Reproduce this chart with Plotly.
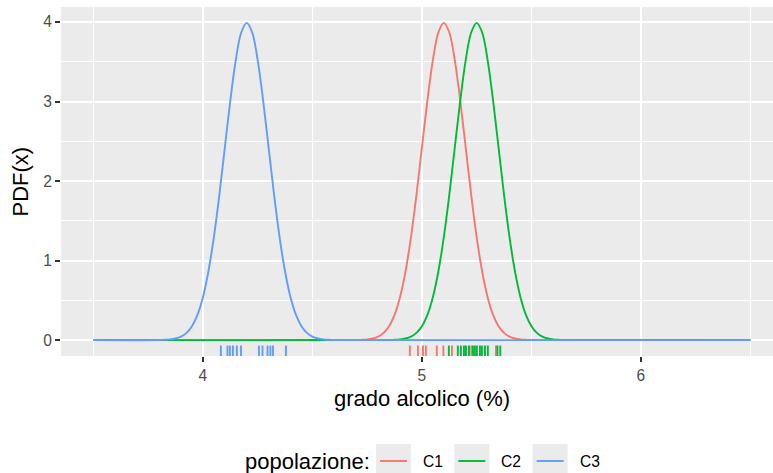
import plotly.graph_objects as go

# Populations and their colours
populations = ["C1", "C2", "C3"]
colors = ["#F8766D", "#00BA38", "#619CFF"]

# Centre of each density curve (grado alcolico, %)
centres = [5.10, 5.25, 4.20]

# Density profile around each centre (offset in %, PDF value)
offsets = [-0.400, -0.375, -0.350, -0.325, -0.300, -0.275, -0.250, -0.225,
           -0.200, -0.175, -0.150, -0.125, -0.100, -0.075, -0.050, -0.025,
           0.000,
           0.025, 0.050, 0.075, 0.100, 0.125, 0.150, 0.175, 0.200,
           0.225, 0.250, 0.275, 0.300, 0.325, 0.350, 0.375, 0.400]
heights = [0.001, 0.004, 0.009, 0.020, 0.044, 0.091, 0.175, 0.317,
           0.540, 0.863, 1.295, 1.826, 2.420, 3.011, 3.521, 3.867,
           3.989,
           3.867, 3.521, 3.011, 2.420, 1.826, 1.295, 0.863, 0.540,
           0.317, 0.175, 0.091, 0.044, 0.020, 0.009, 0.004, 0.001]

# Domain of the curves
x_min, x_max = 3.5, 6.5

# Observed samples (rug marks)
obs_c1 = [4.945, 4.982, 5.005, 5.018, 5.068, 5.098, 5.137, 5.226, 5.338]
obs_c2 = [5.123, 5.164, 5.178, 5.192, 5.201, 5.215, 5.233, 5.242, 5.251,
          5.265, 5.274, 5.288, 5.301, 5.345, 5.358]
obs_c3 = [4.082, 4.112, 4.123, 4.137, 4.155, 4.174, 4.256, 4.272, 4.295,
          4.308, 4.320, 4.379]
observations = [obs_c1, obs_c2, obs_c3]

# Axis ticks
x_ticks = [4, 5, 6]
y_ticks = [0, 1, 2, 3, 4]

FONT = "Liberation Sans, Arial, Helvetica, sans-serif"
TITLE_SIZE = 22
TEXT_SIZE = 15.6
W, H = 773, 473
ML, MR, MT, MB = 61, 0, 7, 117
PW, PH = W - ML - MR, H - MT - MB

x_range = [3.352, 3.352 + PW / 219.0]
y_range = [-0.1995, 4.188]
rug_top = y_range[0] + 0.03 * (y_range[1] - y_range[0])


def px_x(px):
    return (px - ML) / PW


def px_y(py):
    return (H - MB - py) / PH


fig = go.Figure()

# Density curves
for name, col, c in zip(populations, colors, centres):
    xs = [x_min] + [c + o for o in offsets] + [x_max]
    ys = [0.0] + heights + [0.0]
    fig.add_trace(go.Scatter(
        x=xs, y=ys, mode="lines", name=name,
        line=dict(color=col, width=1.9, shape="spline", smoothing=1.0),
        showlegend=False, hoverinfo="x+y",
    ))

# Rug marks along the bottom of the panel
for name, col, obs in zip(populations, colors, observations):
    rx, ry = [], []
    for v in obs:
        rx += [v, v, None]
        ry += [y_range[0], rug_top, None]
    fig.add_trace(go.Scatter(
        x=rx, y=ry, mode="lines", line=dict(color=col, width=1.9),
        showlegend=False, hoverinfo="skip", cliponaxis=False,
    ))

shapes = []
annotations = []

# Axis titles
annotations.append(dict(
    text="grado alcolico (%)", x=5.0, xref="x", y=px_y(398), yref="paper",
    xanchor="center", yanchor="middle", showarrow=False,
    font=dict(family=FONT, size=TITLE_SIZE, color="black"),
))
annotations.append(dict(
    text="PDF(x)", x=px_x(20), xref="paper", y=0.5, yref="paper",
    xanchor="center", yanchor="middle", textangle=-90, showarrow=False,
    font=dict(family=FONT, size=TITLE_SIZE, color="black"),
))

# Legend drawn at the bottom
legend_y = 461
annotations.append(dict(
    text="popolazione:", x=px_x(243), xref="paper", y=px_y(legend_y),
    yref="paper", xanchor="left", yanchor="middle", showarrow=False,
    font=dict(family=FONT, size=TITLE_SIZE, color="black"),
))
for i, (name, col) in enumerate(zip(populations, colors)):
    kx0 = 376 + i * 78.3
    shapes.append(dict(
        type="rect", xref="paper", yref="paper",
        x0=px_x(kx0), x1=px_x(kx0 + 35), y0=px_y(444), y1=px_y(478),
        fillcolor="#EBEBEB", line=dict(width=0), layer="below",
    ))
    shapes.append(dict(
        type="line", xref="paper", yref="paper",
        x0=px_x(kx0 + 4), x1=px_x(kx0 + 31),
        y0=px_y(legend_y), y1=px_y(legend_y),
        line=dict(color=col, width=1.9),
    ))
    annotations.append(dict(
        text=name, x=px_x(kx0 + 45), xref="paper", y=px_y(legend_y),
        yref="paper", xanchor="left", yanchor="middle", showarrow=False,
        font=dict(family=FONT, size=TEXT_SIZE, color="black"),
    ))

fig.update_layout(
    width=W, height=H,
    margin=dict(l=ML, r=MR, t=MT, b=MB, pad=0),
    paper_bgcolor="white", plot_bgcolor="#EBEBEB",
    shapes=shapes, annotations=annotations,
    showlegend=False,
    font=dict(family=FONT, size=TEXT_SIZE, color="#4D4D4D"),
)
fig.update_xaxes(
    range=x_range, tickvals=x_ticks, ticktext=[str(t) for t in x_ticks],
    showgrid=True, gridcolor="white", gridwidth=2,
    zeroline=False, showline=False,
    ticks="outside", ticklen=5, tickwidth=1.8, tickcolor="#333333",
    tickfont=dict(family=FONT, size=TEXT_SIZE, color="#4D4D4D"),
    minor=dict(tick0=3.5, dtick=1, showgrid=True, gridcolor="white",
               gridwidth=1, ticks=""),
    automargin=False, fixedrange=True,
)
fig.update_yaxes(
    range=y_range, tickvals=y_ticks, ticktext=[str(t) for t in y_ticks],
    showgrid=True, gridcolor="white", gridwidth=2,
    zeroline=False, showline=False,
    ticks="outside", ticklen=5, tickwidth=1.8, tickcolor="#333333",
    tickfont=dict(family=FONT, size=TEXT_SIZE, color="#4D4D4D"),
    minor=dict(tick0=0.5, dtick=1, showgrid=True, gridcolor="white",
               gridwidth=1, ticks=""),
    automargin=False, fixedrange=True,
)

fig.write_html("out.html")
